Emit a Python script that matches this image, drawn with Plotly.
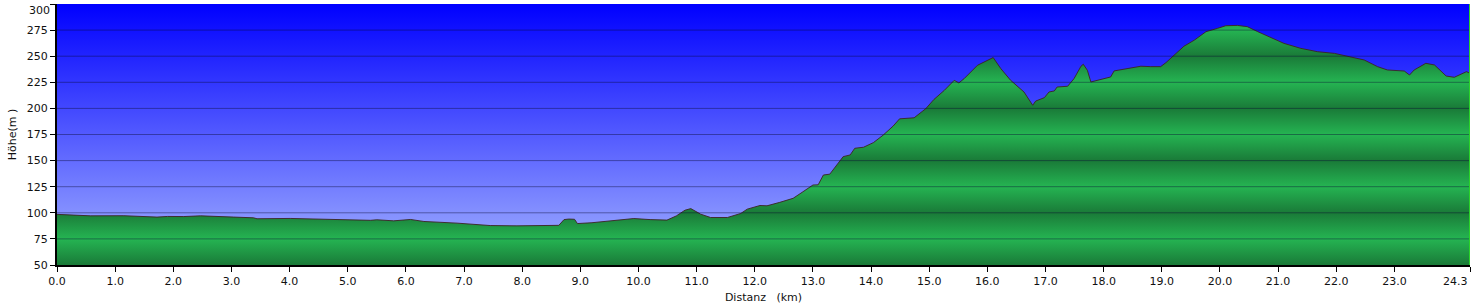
import plotly.graph_objects as go

# ---- data ----
distance_km = [
    0.00, 0.17, 0.58, 1.15, 1.45, 1.72, 1.90, 2.18, 2.47, 2.70, 3.04, 3.38, 3.44,
    4.01, 4.59, 5.16, 5.39, 5.50, 5.79, 6.08, 6.19, 6.31, 6.88, 7.45, 7.91, 8.30,
    8.63, 8.72, 8.80, 8.90, 8.95, 9.20, 9.50, 9.92, 10.20, 10.49, 10.65, 10.80,
    10.90, 10.97, 11.07, 11.24, 11.53, 11.76, 11.87, 12.09, 12.21, 12.43, 12.66,
    12.83, 13.00, 13.09, 13.18, 13.29, 13.41, 13.52, 13.64, 13.72, 13.87, 14.04,
    14.21, 14.38, 14.49, 14.74, 14.94, 15.08, 15.26, 15.43, 15.51, 15.60, 15.83,
    16.06, 16.10, 16.23, 16.40, 16.63, 16.78, 16.83, 16.98, 17.06, 17.15, 17.20,
    17.38, 17.49, 17.61, 17.65, 17.72, 17.78, 17.95, 18.12, 18.18, 18.52, 18.64,
    18.81, 18.98, 19.07, 19.38, 19.56, 19.67, 19.76, 19.96, 20.10, 20.30, 20.47,
    20.65, 20.82, 21.10, 21.39, 21.68, 21.97, 22.25, 22.48, 22.71, 22.88, 23.17,
    23.26, 23.34, 23.54, 23.69, 23.89, 24.03, 24.24, 24.30,
]
elevation_m = [
    98.5, 98.1, 97.1, 97.2, 96.5, 95.9, 96.5, 96.4, 97.1, 96.8, 95.9, 95.2, 94.3,
    94.6, 93.6, 93.0, 92.8, 93.3, 92.3, 93.6, 92.9, 91.7, 90.1, 87.8, 87.5, 88.0,
    88.0, 93.5, 94.0, 93.8, 89.7, 90.5, 92.0, 94.5, 93.5, 93.0, 97.0, 102.5,
    104.0, 102.0, 98.7, 95.5, 95.5, 99.4, 103.5, 107.0, 106.7, 110.0, 113.9,
    120.2, 126.6, 126.8, 136.2, 137.0, 145.8, 153.8, 155.4, 161.8, 162.8, 167.2,
    174.5, 183.1, 190.0, 191.0, 199.7, 208.5, 217.3, 226.9, 224.4, 228.5, 241.3,
    247.8, 248.7, 238.2, 226.9, 215.7, 203.0, 207.0, 210.3, 215.7, 216.7, 220.5,
    221.2, 228.5, 240.4, 242.3, 236.5, 225.3, 227.6, 230.1, 235.9, 239.1, 240.4,
    240.0, 240.0, 243.8, 259.5, 265.4, 270.3, 273.5, 276.7, 279.2, 279.5, 278.3,
    273.5, 269.3, 262.3, 257.5, 254.3, 252.7, 249.5, 246.4, 240.0, 236.8, 235.8,
    232.0, 236.8, 243.2, 241.6, 231.0, 229.8, 235.2, 233.6,
]
x_tick_values = [0, 1, 2, 3, 4, 5, 6, 7, 8, 9, 10, 11, 12, 13, 14, 15, 16, 17,
                 18, 19, 20, 21, 22, 23, 24.3]
x_tick_labels = ["0.0", "1.0", "2.0", "3.0", "4.0", "5.0", "6.0", "7.0", "8.0",
                 "9.0", "10.0", "11.0", "12.0", "13.0", "14.0", "15.0", "16.0",
                 "17.0", "18.0", "19.0", "20.0", "21.0", "22.0", "23.0", "24.3"]
y_tick_values = [50, 75, 100, 125, 150, 175, 200, 225, 250, 275, 300]
y_tick_labels = ["50", "75", "100", "125", "150", "175", "200", "225", "250", "275", "300"]
Y_MIN, Y_MAX = 50, 300
X_MAX = 24.3

FONT = "DejaVu Sans, Verdana, sans-serif"
TICK_FONT = dict(family=FONT, size=11, color="#111")

# the edge labels (last x, top y) are drawn as annotations so they stay inside
x_tick_text = x_tick_labels[:-1] + [""]
y_tick_text = y_tick_labels[:-1] + [""]

# green banded gradient: dark at multiples of 50, light in between
DARK_G = "rgb(26,122,56)"
LIGHT_G = "rgb(37,180,82)"
green_scale = []
for v in y_tick_values:
    f = (v - Y_MIN) / (Y_MAX - Y_MIN)
    green_scale.append([f, DARK_G if (v % 50 == 0) else LIGHT_G])

fig = go.Figure()

# sky background (vertical blue gradient)
fig.add_trace(go.Scatter(
    x=[distance_km[0], distance_km[-1]], y=[Y_MAX, Y_MAX],
    mode="lines", line=dict(width=0), fill="tozeroy",
    fillgradient=dict(type="vertical", start=Y_MIN, stop=Y_MAX,
                      colorscale=[[0, "rgb(165,180,255)"], [1, "rgb(0,0,255)"]]),
    hoverinfo="skip", showlegend=False,
))

# elevation profile
fig.add_trace(go.Scatter(
    x=distance_km, y=elevation_m,
    mode="lines", line=dict(color="rgba(60,35,35,0.9)", width=1),
    fill="tozeroy",
    fillgradient=dict(type="vertical", start=Y_MIN, stop=Y_MAX, colorscale=green_scale),
    hoverinfo="skip", showlegend=False,
))

shapes = []
for v in y_tick_values[1:-1]:
    shapes.append(dict(type="line", xref="paper", x0=0, x1=1, yref="y", y0=v, y1=v,
                       line=dict(color="rgba(10,10,50,0.42)", width=1), layer="above"))
shapes.append(dict(type="line", xref="x", x0=distance_km[-1], x1=distance_km[-1],
                   yref="paper", y0=0, y1=1,
                   line=dict(color="rgb(40,210,40)", width=2), layer="above"))

annotations = [
    dict(text=x_tick_labels[-1], x=x_tick_values[-1], xref="x", y=0, yref="paper",
         xanchor="right", yanchor="top", yshift=-8, showarrow=False, font=TICK_FONT),
    dict(text=y_tick_labels[-1], x=0, xref="paper", y=y_tick_values[-1], yref="y",
         xanchor="right", yanchor="top", xshift=-5, yshift=2, showarrow=False,
         font=TICK_FONT),
]

fig.update_layout(
    width=1476, height=304,
    margin=dict(l=57, r=6, t=4, b=39, autoexpand=False),
    paper_bgcolor="white", plot_bgcolor="white",
    font=dict(family=FONT, size=11, color="#111"),
    shapes=shapes,
    annotations=annotations,
    xaxis=dict(
        range=[0, X_MAX + 1e-6], tickvals=x_tick_values, ticktext=x_tick_text,
        ticks="outside", ticklen=5, tickwidth=1, tickcolor="black",
        automargin=False,
        showline=True, linecolor="black", linewidth=2, showgrid=False, zeroline=False,
        title=dict(text="Distanz\u00a0\u00a0\u00a0(km)", font=dict(size=11), standoff=6),
        tickfont=TICK_FONT,
    ),
    yaxis=dict(
        range=[Y_MIN, Y_MAX + 1e-6], tickvals=y_tick_values, ticktext=y_tick_text,
        ticks="outside", ticklen=5, tickwidth=1, tickcolor="black",
        automargin=False,
        showline=True, linecolor="black", linewidth=2, showgrid=False, zeroline=False,
        title=dict(text="Höhe(m\u00a0)", font=dict(size=11), standoff=8),
        tickfont=TICK_FONT,
    ),
)

fig.write_html("out.html")
